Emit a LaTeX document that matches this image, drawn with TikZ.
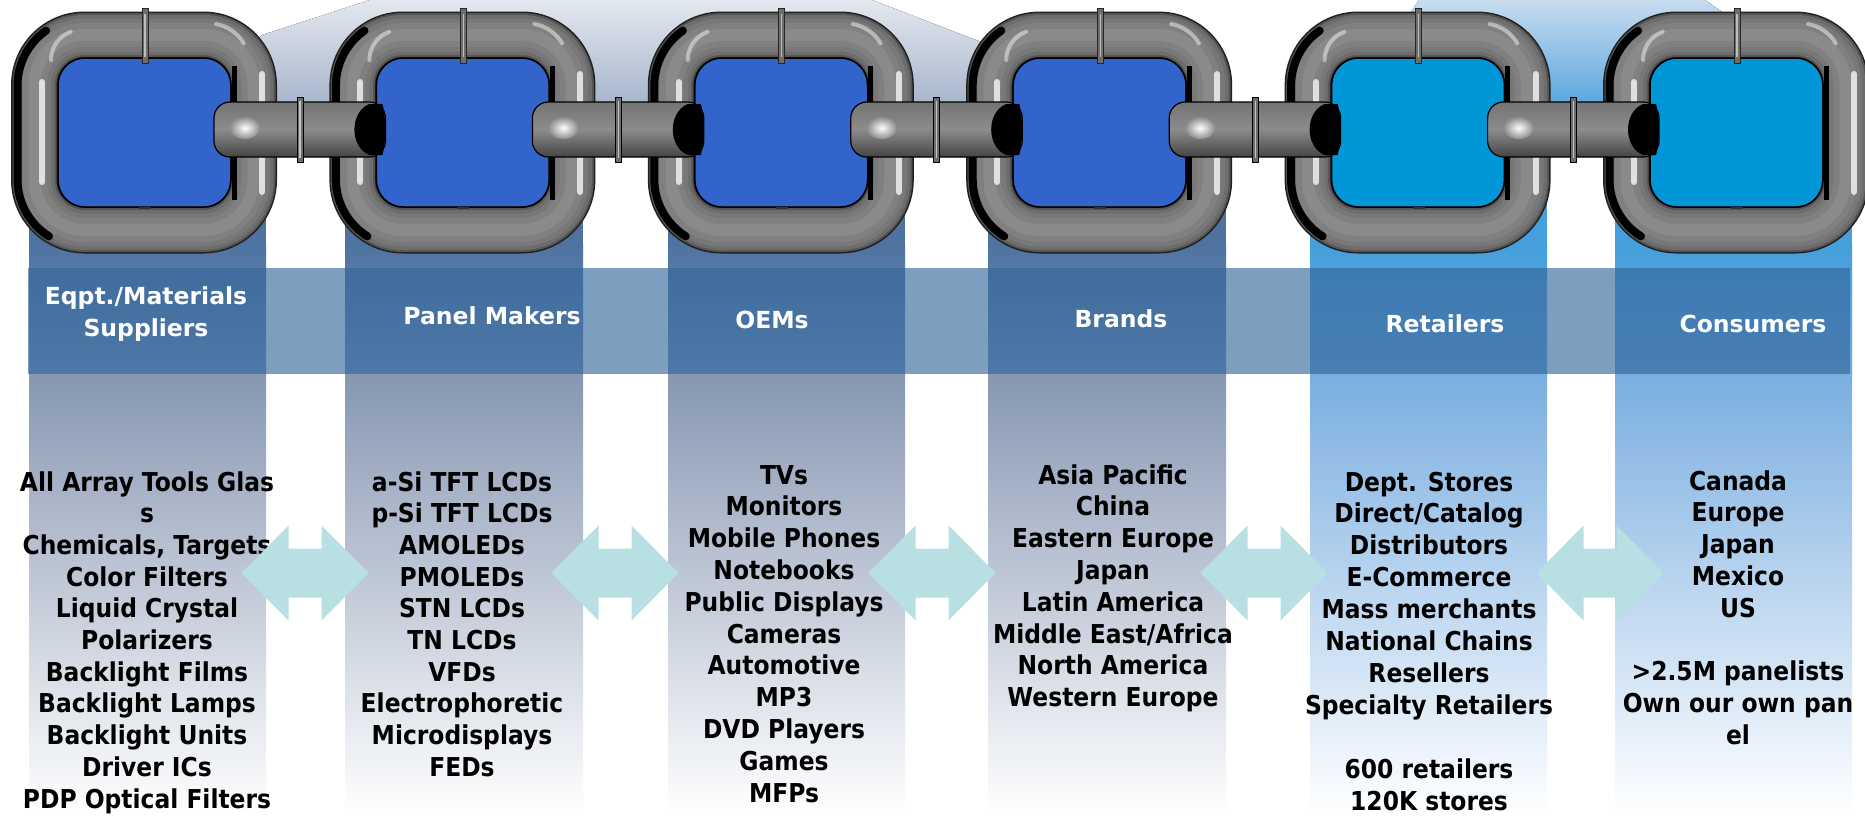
\documentclass[tikz,border=0pt]{standalone}
\usepackage{fontspec}
\newfontfamily\itemfont{DejaVu Sans}[FakeStretch=0.9]
\newfontfamily\headfont{DejaVu Sans}
\usetikzlibrary{calc}
\definecolor{winA}{HTML}{3264CC}
\definecolor{winB}{HTML}{0096D8}
\definecolor{colAtop}{HTML}{4E73A0}
\definecolor{colAmid}{HTML}{7A97BD}
\definecolor{colAlow}{HTML}{8797B2}
\definecolor{colBtop}{HTML}{449FDC}
\definecolor{colBmid}{HTML}{6CAAE0}
\definecolor{colBlow}{HTML}{7AAEE0}
\definecolor{band}{HTML}{34669A}
\definecolor{flowfill}{HTML}{B8E0E3}
\definecolor{roofAtop}{HTML}{E3E8EF}
\definecolor{roofAbot}{HTML}{95A6C0}
\definecolor{roofBtop}{HTML}{C8DCF0}
\definecolor{roofBbot}{HTML}{3A97D8}
\definecolor{steel}{HTML}{808080}
\definecolor{steeldk}{HTML}{555555}
\definecolor{steeltop}{HTML}{747474}
\definecolor{steelmid}{HTML}{8C8C8C}
\definecolor{steelbot}{HTML}{444444}
\tikzset{
  item/.style={anchor=base, inner sep=0pt, text=black,
    font=\itemfont\bfseries\fontsize{26}{31}\selectfont},
  head/.style={anchor=base, inner sep=0pt, text=white,
    font=\headfont\bfseries\fontsize{23.5}{28}\selectfont},
  flow/.style={fill=flowfill, draw=none},
  tube/.style={rounded corners=50, line join=round},
  gleam/.style={white, line cap=round, opacity=0.75},
}

\begin{document}
\begin{tikzpicture}[x=1pt,y=1pt]
  \useasboundingbox (0,0) rectangle (1865,-815);
  \clip (0,0) rectangle (1865,-815);
  \fill[white] (0,0) rectangle (1865,-815);

  \fill[top color=roofAtop, bottom color=roofAbot] (370,0) -- (872,0) -- (1223,-135) -- (150,-135) -- (262,-35) -- cycle;
  \fill[top color=roofBtop, bottom color=roofBbot] (1419,0) -- (1705,0) -- (1900,-135) -- (1330,-135) -- cycle;

  \foreach \cl/\cr/\ct/\cm/\cb in {29/266/colAtop/colAmid/colAlow, 345/583/colAtop/colAmid/colAlow,
      668/905/colAtop/colAmid/colAlow, 988/1226/colAtop/colAmid/colAlow,
      1310/1547/colBtop/colBmid/colBlow, 1615/1852/colBtop/colBmid/colBlow} {
    \fill[\ct] (\cl,-150) rectangle (\cr,-245);
    \fill[top color=\ct, bottom color=\cm] (\cl,-244) rectangle (\cr,-374);
    \fill[top color=\cb, bottom color=white] (\cl,-374) rectangle (\cr,-815);
  }

  \fill[band, fill opacity=0.63] (28,-268) rectangle (1850,-374);

  \foreach \i in {0,...,5} {
    \pgfmathsetmacro\lx{11+318.4*\i}
    \ifnum\i<4 \def\win{winA}\else\def\win{winB}\fi
    \fill[\win, rounded corners=28] (\lx+47,-58) rectangle (\lx+221,-207);
    \draw[tube, line width=47, black!88] (\lx+23.5,-35) rectangle (\lx+242.5,-230);
    \draw[tube, line width=44, steeldk] (\lx+23.5,-35) rectangle (\lx+242.5,-230);
    \draw[tube, line width=40, steel!85!black] (\lx+23.5,-35) rectangle (\lx+242.5,-230);
    \draw[tube, line width=33, steel!94!black] (\lx+23.5,-35) rectangle (\lx+242.5,-230);
    \draw[tube, line width=24, steel] (\lx+23.5,-35) rectangle (\lx+242.5,-230);
    \draw[tube, line width=12, steel!92!white] (\lx+23.5,-35) rectangle (\lx+242.5,-230);
    \draw[black, line width=1.5, rounded corners=27] (\lx+47,-58) rectangle (\lx+220,-207);
    \draw[black, line width=8, line cap=round] ($(\lx+73.5,-85.5)+(125:67)$)
      arc[start angle=125, end angle=180, radius=67] -- ++(0,-94)
      arc[start angle=180, end angle=238, radius=67];
    \draw[black, line width=5] (\lx+223,-66) -- (\lx+223,-200);
    \draw[gleam, line width=6] (\lx+31,-82) -- (\lx+31,-182);
    \draw[gleam, line width=6] (\lx+251,-74) -- (\lx+251,-192);
    \draw[gleam, line width=4, opacity=0.45] (\lx+205,-24) arc[start angle=80, end angle=30, radius=40];
    \draw[gleam, line width=4, opacity=0.45] (\lx+40,-60) arc[start angle=180, end angle=110, radius=30];
    \draw[black!85, line width=1, fill=steel!85!black] (\lx+131,-8) rectangle (\lx+137,-63);
    \draw[white, line width=1.2, opacity=0.55] (\lx+134,-14) -- (\lx+134,-57);
    \draw[black!80, line width=1.2] (\lx+128,-208) -- (\lx+140,-208);
  }

  \foreach \i in {0,...,4} {
    \pgfmathsetmacro\cl{11+318.4*\i+203}
    \pgfmathsetmacro\cr{11+318.4*\i+374.4}
    \shade[rounded corners=16, top color=steeltop, bottom color=steelbot, middle color=steelmid]
      (\cl,-102) rectangle (\cr,-157);
    \draw[black, line width=1.2, rounded corners=16] (\cl,-102) rectangle (\cr,-157);
    \shade[inner color=white, outer color=steelmid] (\cl+31,-128) ellipse (15 and 11);
    \draw[black, line width=1, fill=steel!85!black] (\cl+83,-97) rectangle (\cl+89,-162);
    \draw[white, line width=1.2, opacity=0.6] (\cl+86,-101) -- (\cl+86,-158);
    \fill[black] (\cr-3,-104) -- (\cr-16,-104) .. controls (\cr-36,-112) and (\cr-36,-147) .. (\cr-16,-155)
      -- (\cr-3,-155) .. controls (\cr+1,-140) and (\cr+1,-119) .. cycle;
  }

  \node[head] (h-sup-1) at (146,-304) {Eqpt./Materials};
  \node[head] (h-sup-2) at (146,-336) {Suppliers};
  \node[head] (h-pan) at (492,-324) {Panel Makers};
  \node[head] (h-oem) at (772,-328) {OEMs};
  \node[head] (h-brd) at (1121,-327) {Brands};
  \node[head] (h-ret) at (1445,-332) {Retailers};
  \node[head] (h-con) at (1753,-332) {Consumers};

  \foreach \t [count=\k] in {All Array Tools Glas, s, {Chemicals, Targets}, Color Filters, Liquid Crystal,
      Polarizers, Backlight Films, Backlight Lamps, Backlight Units, Driver ICs, PDP Optical Filters}
    \node[item] (sup-\k) at (147,-491-31.7*\k+31.7) {\t};
  \foreach \t [count=\k] in {a-Si TFT LCDs, p-Si TFT LCDs, AMOLEDs, PMOLEDs, STN LCDs, TN LCDs, VFDs,
      Electrophoretic, Microdisplays, FEDs}
    \node[item] (pan-\k) at (462,-491-31.7*\k+31.7) {\t};
  \foreach \t [count=\k] in {TVs, Monitors, Mobile Phones, Notebooks, Public Displays, Cameras, Automotive,
      MP3, DVD Players, Games, MFPs}
    \node[item] (oem-\k) at (784,-484-31.8*\k+31.8) {\t};
  \foreach \t [count=\k] in {Asia Pacific, China, Eastern Europe, Japan, Latin America, Middle East/Africa,
      North America, Western Europe}
    \node[item] (brd-\k) at (1113,-484-31.8*\k+31.8) {\t};
  \foreach \t [count=\k] in {Dept. Stores, Direct/Catalog, Distributors, E-Commerce, Mass merchants,
      National Chains, Resellers, Specialty Retailers}
    \node[item] (ret-\k) at (1429,-491-31.9*\k+31.9) {\t};
  \foreach \t [count=\k from 10] in {600 retailers, 120K stores}
    \node[item] (ret-\k) at (1429,-491-31.9*\k+31.9) {\t};
  \foreach \t [count=\k] in {Canada, Europe, Japan, Mexico, US}
    \node[item] (con-\k) at (1738,-490-31.8*\k+31.8) {\t};
  \foreach \t [count=\k from 7] in {>2.5M panelists, Own our own pan, el}
    \node[item] (con-\k) at (1738,-490-31.8*\k+31.8) {\t};

  \foreach \ax in {305,615,932,1264,1600}
    \fill[flow] (\ax-63.5,-573) -- (\ax-16.5,-525.5) -- (\ax-16.5,-548.5) -- (\ax+16.5,-548.5)
      -- (\ax+16.5,-525.5) -- (\ax+63.5,-573) -- (\ax+16.5,-620.5) -- (\ax+16.5,-597.5)
      -- (\ax-16.5,-597.5) -- (\ax-16.5,-620.5) -- cycle;
\end{tikzpicture}
\end{document}
